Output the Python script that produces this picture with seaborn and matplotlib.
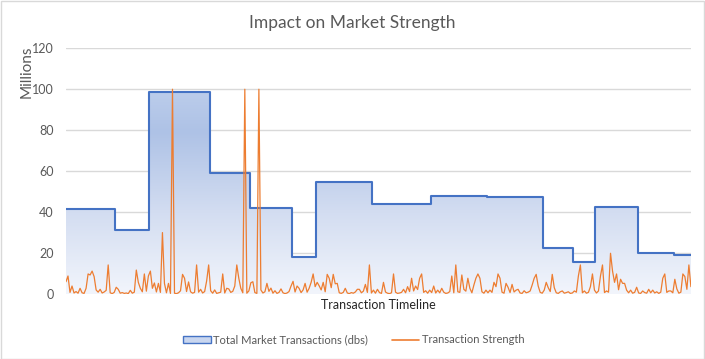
import numpy as np
import pandas as pd
import matplotlib
matplotlib.use('Agg')
import matplotlib.pyplot as plt
import seaborn as sns
from matplotlib.colors import LinearSegmentedColormap
from matplotlib.patches import Patch, Rectangle
from matplotlib.lines import Line2D

# total market transactions (millions): step levels and how many periods each lasts
market_levels = [41.3, 31.1, 98.5, 59.1, 41.9, 17.9, 54.5, 44.2, 48.1, 47.2,
                 22.3, 15.5, 42.3, 19.9, 18.9]
level_periods = [25, 17, 30, 20, 21, 12, 28, 29, 28, 28, 15, 11, 21, 18, 9]

# transaction strength per period
strength = [
    6.0, 8.8, 0.8, 3.9, 0.5, 1.2, 0.4, 2.8, 0.6, 0.3, 2.8, 9.8, 9.3, 11.2, 8.5, 2.0, 0.9, 2.3, 0.5, 1.0,
    1.8, 14.2, 0.6, 0.2, 0.8, 3.3, 2.3, 0.4, 0.7, 0.3, 0.5, 0.2, 1.8, 0.4, 0.9, 11.7, 5.7, 2.8, 1.1, 9.8,
    1.4, 8.8, 11.2, 2.8, 5.4, 1.0, 5.2, 0.8, 30.0, 5.2, 0.6, 5.2, 0.3, 100.0, 0.4, 0.2, 0.6, 1.6, 9.6, 7.7,
    1.2, 5.9, 1.1, 0.4, 0.8, 14.2, 0.9, 2.3, 0.5, 1.2, 6.4, 14.2, 1.6, 0.4, 2.0, 0.3, 0.6, 0.9, 9.8, 0.5,
    2.8, 2.5, 0.8, 1.3, 3.9, 14.2, 7.7, 2.8, 0.6, 100.0, 0.4, 1.5, 5.5, 6.0, 0.7, 0.3, 100.0, 2.0, 0.5, 1.1,
    5.2, 1.3, 2.9, 0.4, 1.6, 0.3, 0.8, 2.5, 0.6, 0.2, 0.5, 1.2, 3.9, 6.2, 1.0, 3.9, 2.8, 0.7, 2.0, 5.2,
    0.9, 2.8, 5.7, 9.8, 3.6, 5.7, 4.0, 2.0, 5.7, 1.1, 9.6, 7.7, 3.1, 9.6, 5.0, 5.2, 0.6, 0.3, 0.8, 2.8,
    0.5, 0.2, 0.7, 0.4, 1.0, 2.3, 2.3, 0.6, 1.4, 4.7, 0.8, 14.2, 0.5, 1.9, 0.4, 2.3, 0.7, 0.3, 5.7, 1.0,
    0.4, 0.2, 0.6, 9.8, 0.9, 0.3, 0.5, 0.8, 2.3, 0.6, 3.6, 1.2, 7.7, 1.5, 3.9, 2.2, 7.7, 9.8, 0.8, 1.6,
    0.4, 1.9, 0.7, 3.9, 0.5, 1.9, 0.6, 2.8, 0.9, 0.3, 0.5, 1.2, 8.8, 0.6, 14.2, 1.1, 0.8, 9.3, 2.3, 1.4,
    7.7, 2.8, 0.6, 4.4, 7.7, 9.8, 7.7, 1.1, 0.4, 1.9, 0.6, 1.9, 0.8, 5.7, 3.6, 9.8, 7.7, 0.9, 0.4, 5.2,
    3.3, 0.7, 4.7, 1.0, 1.9, 2.3, 0.5, 0.3, 1.6, 0.6, 0.9, 1.5, 4.4, 7.7, 9.6, 3.9, 0.8, 0.4, 1.9, 5.7,
    3.1, 1.2, 9.6, 3.1, 0.6, 0.3, 1.1, 1.5, 0.4, 0.7, 1.1, 0.3, 0.5, 1.5, 0.9, 8.8, 14.2, 0.6, 1.5, 0.4,
    0.8, 3.6, 9.8, 1.9, 0.5, 1.5, 8.8, 14.2, 0.7, 1.5, 0.9, 19.9, 11.2, 5.7, 9.8, 2.1, 7.2, 5.2, 5.2, 1.9,
    0.6, 1.9, 0.4, 0.8, 3.3, 0.5, 0.3, 1.5, 0.7, 0.4, 2.3, 0.6, 1.9, 0.5, 1.1, 0.3, 0.9, 7.7, 9.8, 0.8,
    1.5, 1.5, 0.6, 7.2, 2.5, 0.4, 0.9, 9.8, 8.5, 2.3, 14.2, 3.6,
]

df = pd.DataFrame({
    'period': np.arange(len(strength)),
    'market': np.repeat(market_levels, level_periods),
    'strength': strength,
})

sns.set_theme(style='white')
plt.rcParams['font.family'] = ['Lato', 'DejaVu Sans']
grey = '#595959'

fig = plt.figure(figsize=(7.05, 3.59), dpi=100)
ax = fig.add_axes([0.0936, 0.181, 0.8864, 0.6845])

# blue stepped area with vertical gradient
poly = ax.fill_between(df['period'], 0, df['market'], step='mid', color='none', zorder=1)
grad = LinearSegmentedColormap.from_list('g', [
    (0.0, '#F2F5FC'), (0.33, '#D3DDF1'), (0.66, '#AEC2E6'), (0.83, '#BCCDEB'), (1.0, '#C6D4EE')])
img = ax.imshow(np.linspace(0, 1, 256).reshape(-1, 1), cmap=grad, origin='lower',
                extent=[0, len(strength) - 1, 0, 120], aspect='auto', zorder=1)
img.set_clip_path(poly.get_paths()[0], transform=ax.transData)
sns.lineplot(data=df, x='period', y='market', drawstyle='steps-mid', color='#4472C4',
             linewidth=1.5, ax=ax, zorder=2)
sns.lineplot(data=df, x='period', y='strength', color='#ED7D31', linewidth=0.9, ax=ax, zorder=3)

ax.set_xlim(0, len(strength) - 1)
ax.set_ylim(0, 120)
ax.set_yticks(range(0, 121, 20))
ax.set_xticks([])
ax.grid(axis='y', color='#D9D9D9', linewidth=1.0, zorder=0)
ax.set_axisbelow(True)
for s in ax.spines.values():
    s.set_visible(False)
ax.tick_params(axis='y', length=0, pad=9, labelsize=9, labelcolor=grey)

ax.set_xlabel('Transaction Timeline', fontsize=9, color='#262626')
ax.xaxis.set_label_coords(0.5, -0.02)
ax.set_ylabel('Millions', fontsize=11, color=grey)
ax.yaxis.set_label_coords(-0.052, 0.905)

fig.suptitle('Impact on Market Strength', y=0.936, va='center', fontsize=12.5, color=grey)

handles = [Patch(facecolor='#C9D6EF', edgecolor='#4472C4', linewidth=1.0),
           Line2D([0], [0], color='#ED7D31', linewidth=1.2)]
fig.legend(handles, ['Total Market Transactions (dbs)', 'Transaction Strength'],
           loc='center', bbox_to_anchor=(0.502, 0.053), ncol=2, frameon=False,
           fontsize=8, labelcolor=grey, handlelength=2.5, handletextpad=0.25,
           columnspacing=2.1)

fig.patches.append(Rectangle((0.001, 0.001), 0.997, 0.997, transform=fig.transFigure,
                             fill=False, edgecolor='#D9D9D9', linewidth=1.0))

fig.savefig('out.png', dpi=100)
